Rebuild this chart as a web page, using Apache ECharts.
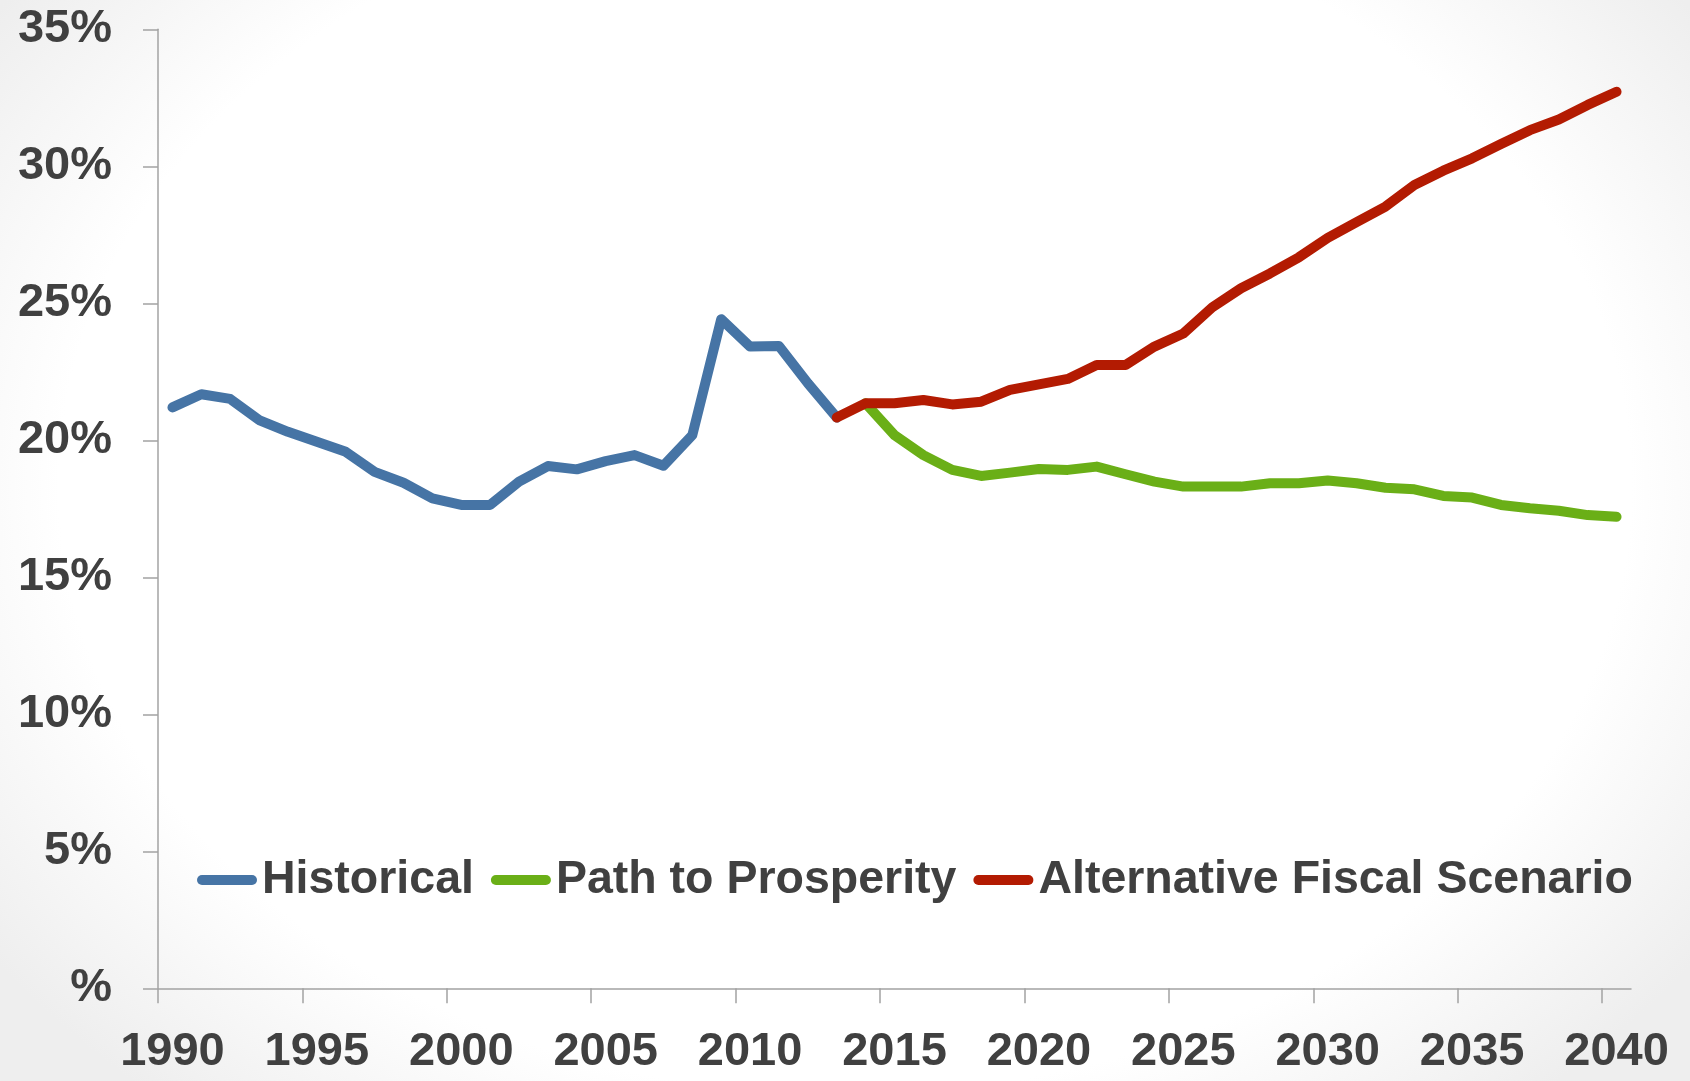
<!DOCTYPE html>
<html>
<head>
<meta charset="utf-8">
<script src="https://cdn.jsdelivr.net/npm/echarts@6/dist/echarts.min.js"></script>
<style>
html, body { margin: 0; padding: 0; }
body { width: 1690px; height: 1081px; background: radial-gradient(ellipse 62% 75% at 50% 45%, #ffffff 75%, #eeeeee 100%); }
#chart { width: 1690px; height: 1081px; }
</style>
</head>
<body>
<div id="chart"></div>
<script>
// Categories (years)
const years = [];
for (let y = 1990; y <= 2040; y++) years.push(y);

// X tick years (tick marks at start of these years' bands)
const xTickYears = [1990, 1995, 2000, 2005, 2010, 2015, 2020, 2025, 2030, 2035, 2040];

// Y tick labels (0% shown as "%")
const yTickLabels = ['%', '5%', '10%', '15%', '20%', '25%', '30%', '35%'];

// Historical, 1990-2013
const historical = [21.20, 21.68, 21.51, 20.74, 20.31, 19.95, 19.58, 18.85, 18.45, 17.88,
  17.64, 17.64, 18.49, 19.06, 18.94, 19.24, 19.46, 19.07, 20.19, 24.42,
  23.42, 23.44, 22.08, 20.83];

// Path to Prosperity, 2014-2040
const pathToProsperity = [21.35, 20.19, 19.46, 18.92, 18.70, 18.82, 18.95, 18.92, 19.04, 18.76,
  18.49, 18.31, 18.31, 18.31, 18.43, 18.43, 18.53, 18.43, 18.27, 18.21,
  17.97, 17.91, 17.64, 17.52, 17.43, 17.27, 17.21];

// Alternative Fiscal Scenario, 2013-2040
const alternativeFiscal = [20.83, 21.35, 21.35, 21.47, 21.31, 21.41, 21.84, 22.04, 22.24, 22.75,
  22.75, 23.42, 23.90, 24.85, 25.55, 26.09, 26.68, 27.39, 27.96, 28.53,
  29.32, 29.84, 30.29, 30.81, 31.32, 31.71, 32.24, 32.72];

const seriesNames = ['Historical', 'Path to Prosperity', 'Alternative Fiscal Scenario'];
const seriesColors = ['#4674a5', '#6aaf17', '#b31b02'];

function placeFrom(startYear, values) {
  const out = years.map(() => null);
  const off = years.indexOf(startYear);
  values.forEach((v, i) => { out[off + i] = v; });
  return out;
}

const textColor = '#404040';
const axisColor = '#a3a3a3';
const font = 'Liberation Sans';
const capsule = 'path://M5,0 H55 A5,5 0 0 1 55,10 H5 A5,5 0 0 1 5,0 Z';

const chart = echarts.init(document.getElementById('chart'), null, { renderer: 'canvas' });
chart.setOption({
  backgroundColor: 'transparent',
  animation: false,
  grid: { left: 158, right: 59, top: 29.3, bottom: 92.7, containLabel: false },
  legend: {
    left: 197,
    top: 855,
    padding: 0,
    itemWidth: 60,
    itemHeight: 10,
    itemGap: 17,
    icon: capsule,
    textStyle: { color: textColor, fontSize: 46.5, fontWeight: 'bold', fontFamily: font, lineHeight: 50 },
    data: seriesNames
  },
  xAxis: [
    {
      type: 'category',
      position: 'bottom',
      data: years.map(String),
      boundaryGap: true,
      axisLine: { show: false },
      axisTick: { show: false },
      axisLabel: { interval: 4, margin: 40, color: textColor, fontSize: 47, fontWeight: 'bold', fontFamily: font, lineHeight: 47 },
      splitLine: { show: false }
    },
    {
      type: 'value',
      position: 'bottom',
      min: years[0],
      max: years[years.length - 1] + 1,
      axisLine: { show: true, lineStyle: { color: axisColor, width: 1.5 } },
      axisTick: { show: true, length: 15, customValues: xTickYears, lineStyle: { color: axisColor, width: 1.5 } },
      axisLabel: { show: false },
      splitLine: { show: false }
    }
  ],
  yAxis: {
    type: 'value',
    min: 0, max: 35, interval: 5,
    axisLine: { show: true, lineStyle: { color: axisColor, width: 1.5 } },
    axisTick: { show: true, length: 15, lineStyle: { color: axisColor, width: 1.5 } },
    axisLabel: {
      margin: 46, color: textColor, fontSize: 47, fontWeight: 'bold', fontFamily: font,
      formatter: (v) => yTickLabels[Math.round(v / 5)]
    },
    splitLine: { show: false }
  },
  series: [
    { name: seriesNames[0], data: placeFrom(1990, historical) },
    { name: seriesNames[1], data: placeFrom(2014, pathToProsperity) },
    { name: seriesNames[2], data: placeFrom(2013, alternativeFiscal) }
  ].map((s, i) => Object.assign({
    type: 'line',
    xAxisIndex: 0,
    showSymbol: false,
    symbol: 'none',
    connectNulls: false,
    color: seriesColors[i],
    lineStyle: { color: seriesColors[i], width: 10, cap: 'round', join: 'round' },
    z: 2 + i
  }, s))
});
</script>
</body>
</html>
